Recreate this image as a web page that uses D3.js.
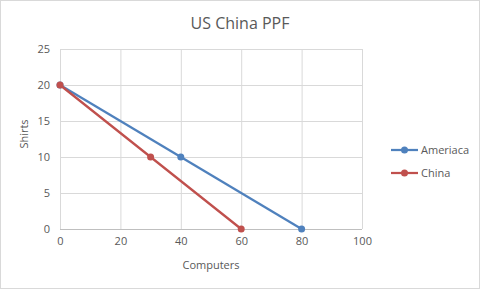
<!DOCTYPE html>
<html>
<head>
<meta charset="utf-8">
<script src="https://cdn.jsdelivr.net/npm/d3@7"></script>
<style>
  body { margin: 0; background: #fff; }
  text { font-family: "Open Sans", "Noto Sans", sans-serif; fill: #595959; }
</style>
</head>
<body>
<svg></svg>
<script>
const seriesNames = ["Ameriaca", "China"];
const americaComputers = [0, 40, 80];
const americaShirts = [20, 10, 0];
const chinaComputers = [0, 30, 60];
const chinaShirts = [20, 10, 0];
const xTicks = [0, 20, 40, 60, 80, 100];
const yTicks = [0, 5, 10, 15, 20, 25];

const width = 480;
const height = 289;
const colors = ["#4f81bd", "#c0504d"];
const svg = d3.select("svg").attr("width", width).attr("height", height);

// outer chart border
svg.append("rect")
  .attr("x", 0.5).attr("y", 0.5)
  .attr("width", width - 1).attr("height", height - 1)
  .attr("fill", "#fff").attr("stroke", "#d9d9d9");

const xScale = d3.scaleLinear().domain([0, 100]).range([60, 362]);
const yScale = d3.scaleLinear().domain([0, 25]).range([229, 49]);

// gridlines
svg.append("g")
  .selectAll("line.h")
  .data(yTicks)
  .enter()
  .append("line")
  .attr("x1", xScale(0)).attr("x2", xScale(100))
  .attr("y1", (d) => yScale(d) + 0.5).attr("y2", (d) => yScale(d) + 0.5)
  .attr("stroke", "#d9d9d9");

svg.append("g")
  .selectAll("line.v")
  .data(xTicks)
  .enter()
  .append("line")
  .attr("x1", (d) => xScale(d) + 0.5).attr("x2", (d) => xScale(d) + 0.5)
  .attr("y1", yScale(0)).attr("y2", yScale(25))
  .attr("stroke", "#d9d9d9");

// axes
const xAxis = d3.axisBottom(xScale).tickValues(xTicks).tickSize(0).tickPadding(8);
const yAxis = d3.axisLeft(yScale).tickValues(yTicks).tickSize(0).tickPadding(10);

const gx = svg.append("g")
  .attr("transform", "translate(0," + yScale(0) + ")")
  .call(xAxis);
gx.select(".domain").remove();
gx.selectAll("text").style("font-size", "11px").attr("fill", "#595959");

const gy = svg.append("g")
  .attr("transform", "translate(" + xScale(0) + ",0)")
  .call(yAxis);
gy.select(".domain").remove();
gy.selectAll("text").style("font-size", "11px").attr("fill", "#595959");

// bottom axis line
svg.append("line")
  .attr("x1", xScale(0)).attr("x2", xScale(100))
  .attr("y1", yScale(0) + 0.5).attr("y2", yScale(0) + 0.5)
  .attr("stroke", "#bfbfbf");

// series
const series = [
  { name: seriesNames[0], pts: americaComputers.map((c, i) => [c, americaShirts[i]]) },
  { name: seriesNames[1], pts: chinaComputers.map((c, i) => [c, chinaShirts[i]]) },
];

const line = d3.line().x((d) => xScale(d[0])).y((d) => yScale(d[1]));

series.forEach((s, i) => {
  svg.append("path")
    .attr("d", line(s.pts))
    .attr("fill", "none")
    .attr("stroke", colors[i])
    .attr("stroke-width", 2.25);
  svg.append("g")
    .selectAll("circle")
    .data(s.pts)
    .enter()
    .append("circle")
    .attr("cx", (d) => xScale(d[0]))
    .attr("cy", (d) => yScale(d[1]))
    .attr("r", 3.5)
    .attr("fill", colors[i]);
});

// title
svg.append("text")
  .attr("x", 240).attr("y", 29)
  .attr("text-anchor", "middle")
  .style("font-size", "16px")
  .text("US China PPF");

// axis titles
svg.append("text")
  .attr("x", 211).attr("y", 269)
  .attr("text-anchor", "middle")
  .style("font-size", "11px")
  .text("Computers");

svg.append("text")
  .attr("transform", "translate(28,134) rotate(-90)")
  .attr("text-anchor", "middle")
  .style("font-size", "11px")
  .text("Shirts");

// legend
const legend = svg.append("g");
series.forEach((s, i) => {
  const y = 150 + i * 23;
  legend.append("line")
    .attr("x1", 391).attr("x2", 418)
    .attr("y1", y).attr("y2", y)
    .attr("stroke", colors[i]).attr("stroke-width", 2.25);
  legend.append("circle")
    .attr("cx", 404.5).attr("cy", y).attr("r", 3.5)
    .attr("fill", colors[i]);
  legend.append("text")
    .attr("x", 421).attr("y", y + 4)
    .style("font-size", "11px")
    .text(s.name);
});
</script>
</body>
</html>
